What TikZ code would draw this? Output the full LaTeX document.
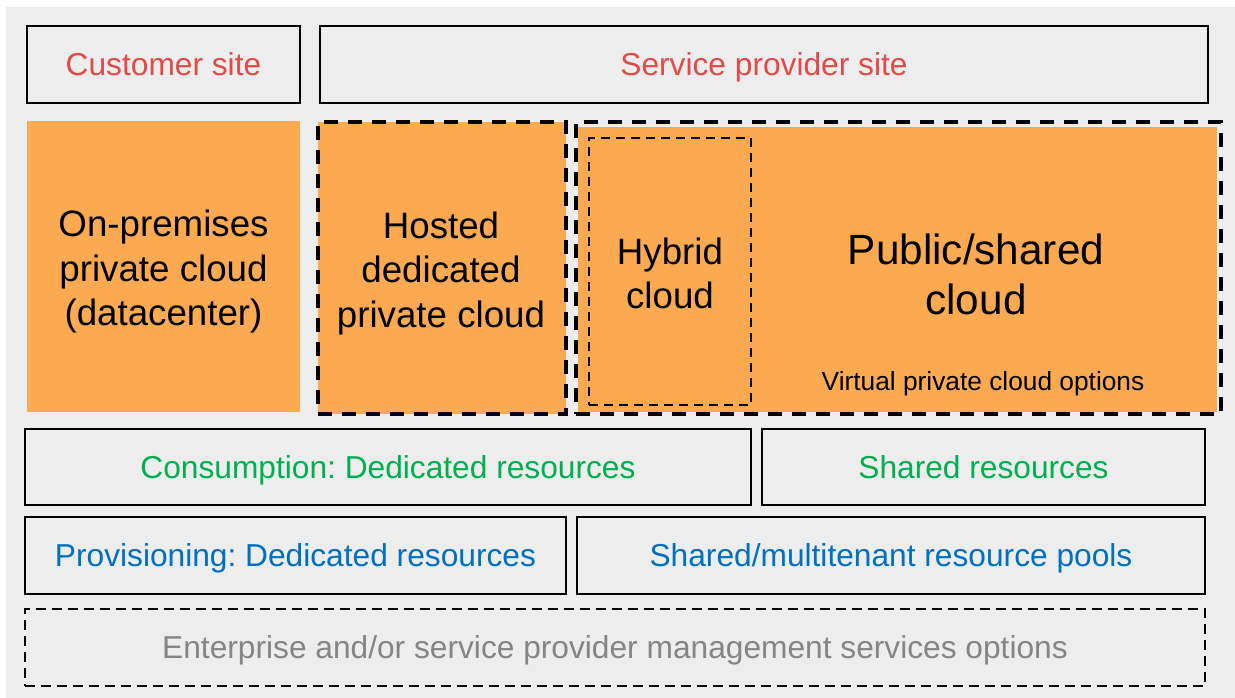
\documentclass[tikz,border=0pt]{standalone}
\usepackage{fontspec}
\setmainfont{Liberation Sans}
\frenchspacing
\definecolor{bggray}{HTML}{EDEDED}
\definecolor{orng}{HTML}{FBAA52}
\definecolor{redtxt}{HTML}{E24A4A}
\definecolor{greentxt}{HTML}{00B050}
\definecolor{bluetxt}{HTML}{0070C0}
\definecolor{graytxt}{HTML}{858585}
\begin{document}
\begin{tikzpicture}[x=1pt,y=-1pt,
  lbl/.style={draw=black,line width=2pt,inner sep=0pt,outer sep=0pt,font=\fontsize{31.7}{38}\selectfont,text height=22.7pt,text depth=0pt},
  bigtxt/.style={align=center,inner sep=0pt,font=\fontsize{36.7}{44.5}\selectfont},
  orbox/.style={fill=orng,inner sep=0pt,outer sep=0pt},
  thickdash/.style={draw=black,line width=3.6pt,dash pattern=on 14pt off 10pt,inner sep=0pt,outer sep=0pt},
  thindash/.style={draw=black,line width=2pt,dash pattern=on 9pt off 6pt,inner sep=0pt,outer sep=0pt}]
\useasboundingbox (0,0) rectangle (1235,698);
\fill[bggray] (6,7) rectangle (1235,698);
% top row
\node[lbl,minimum width=273pt,minimum height=77pt,text=redtxt] (cust) at (163.5,64.5) {Customer site};
\node[lbl,minimum width=888pt,minimum height=77pt,text=redtxt] (prov) at (764,64.5) {Service provider site};
% orange row
\node[orbox,minimum width=273pt,minimum height=291pt] (onprem) at (163.5,266.5) {};
\node[bigtxt] (onpremt) at (163.5,272) {On-premises\\private cloud\\(datacenter)};
\node[orbox,thickdash,minimum width=248pt,minimum height=292pt] (hosted) at (442,268) {};
\node[bigtxt] (hostedt) at (441,273.5) {Hosted\\dedicated\\private cloud};
\node[orbox,minimum width=639pt,minimum height=285pt] (pubfill) at (897.5,269.5) {};
\node[thickdash,minimum width=645pt,minimum height=292pt] (public) at (898.5,268) {};
\node[thindash,minimum width=162pt,minimum height=267pt] (hybrid) at (670,271.5) {};
\node[bigtxt] (hybridt) at (670,273.5) {Hybrid\\cloud};
\node[align=center,inner sep=0pt,font=\fontsize{42.3}{50}\selectfont] (publict) at (976,274.5) {Public/shared\\cloud};
\node[inner sep=0pt,font=\fontsize{26.3}{31}\selectfont] (vpc) at (983,384) {Virtual private cloud options};
% consumption row
\node[lbl,minimum width=726pt,minimum height=76pt,text=greentxt] (cons) at (388,467) {Consumption: Dedicated resources};
\node[lbl,minimum width=443pt,minimum height=76pt,text=greentxt] (shared) at (983.5,467) {Shared resources};
% provisioning row
\node[lbl,minimum width=541pt,minimum height=77pt,text=bluetxt] (provis) at (295.5,555.5) {Provisioning: Dedicated resources};
\node[lbl,minimum width=628pt,minimum height=77pt,text=bluetxt] (pools) at (891,555.5) {Shared/multitenant resource pools};
% management
\node[thindash,minimum width=1180pt,minimum height=77pt,text=graytxt,font=\fontsize{31.7}{38}\selectfont,text height=22.7pt,text depth=0pt,dash pattern=on 10pt off 6pt] (mgmt) at (615,647.5) {Enterprise and/or service provider management services options};
\end{tikzpicture}
\end{document}
